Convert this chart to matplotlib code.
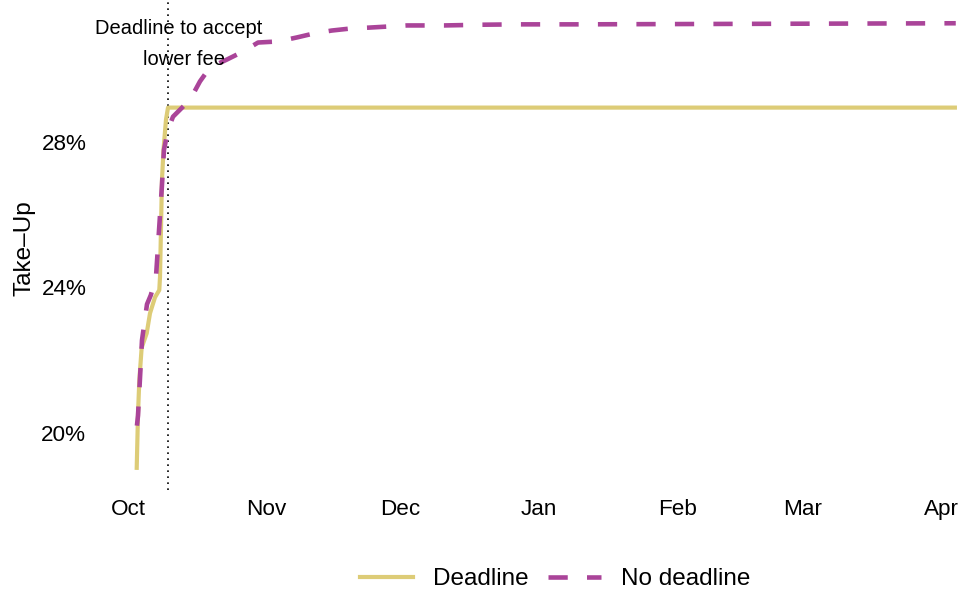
"""
Take-up of the lower fee offer, deadline vs. no-deadline groups.
"""
import pandas as pd
import matplotlib as mpl
import matplotlib.pyplot as plt
import matplotlib.dates as mdates
from matplotlib.lines import Line2D

mpl.rcParams["font.family"] = ["Liberation Sans", "DejaVu Sans"]

START = pd.Timestamp("2018-10-01")
DEADLINE = pd.Timestamp("2018-10-10")

# days after Oct 1 / take-up in percent
deadline_days = [1.95, 2.24, 2.53, 3.06, 3.24, 4.18, 4.92, 6.04, 7.0, 7.16,
                 7.6, 7.94, 8.5, 8.95, 185.0]
deadline_pct = [19.03, 20.52, 21.43, 22.34, 22.40, 22.73, 23.28, 23.72,
                23.92, 24.28, 26.95, 27.78, 28.61, 28.94, 28.94]

nodeadline_days = [2.0, 2.24, 2.68, 3.13, 4.25, 5.1, 6.26, 7.6, 8.05, 8.95,
                   10.07, 13.9, 16.1, 18.3, 22.1, 25.7, 29.1, 33.6, 37.8,
                   41.6, 45.6, 50.1, 53.9, 62.4, 70.7, 79.2, 87.5, 100.2,
                   128.0, 185.2]
nodeadline_pct = [20.19, 20.47, 21.49, 22.54, 23.53, 23.78, 24.28, 26.81,
                  27.78, 28.33, 28.69, 29.16, 29.66, 30.04, 30.26, 30.48,
                  30.73, 30.76, 30.87, 30.98, 31.06, 31.12, 31.14, 31.20,
                  31.20, 31.22, 31.23, 31.23, 31.24, 31.26]

month_ticks = ["2018-10-01", "2018-11-01", "2018-12-01", "2019-01-01",
               "2019-02-01", "2019-03-01", "2019-04-01"]
month_labels = ["Oct", "Nov", "Dec", "Jan", "Feb", "Mar", "Apr"]
y_ticks = [20, 24, 28]

C_DL = "#DDCC77"
C_ND = "#AA4499"


def to_dates(days):
    return START + pd.to_timedelta(days, unit="D")


fig = plt.figure(figsize=(9.64, 5.96), dpi=100)
ax = fig.add_axes([96 / 964, 106 / 596, 862 / 964, 490 / 596])

ax.axvline(DEADLINE, color="black", lw=1.2, ls=(0, (1, 2.6)), zorder=1)
ax.plot(to_dates(deadline_days), deadline_pct, color=C_DL, lw=3.0,
        solid_joinstyle="round", zorder=2)
ax.plot(to_dates(nodeadline_days), nodeadline_pct, color=C_ND, lw=3.3,
        dashes=(4.2, 4.2), dash_capstyle="butt", zorder=3)

# annotation, one text per line (the second line sits a little to the right)
xd = mdates.date2num(DEADLINE)
ax.text(xd + 2.4, 31.12, "Deadline to accept", ha="center", va="center",
        fontsize=14.5)
ax.text(xd + 3.5, 30.26, "lower fee", ha="center", va="center",
        fontsize=14.5)

x0 = mdates.date2num(START)
ax.set_xlim(x0 - 7.16, x0 + 185.7)
ax.set_ylim(18.42, 31.9)

ax.set_xticks(pd.to_datetime(month_ticks))
ax.set_xticklabels(month_labels)
ax.set_yticks(y_ticks)
ax.set_yticklabels([f"{v}%" for v in y_ticks])
ax.tick_params(axis="both", length=0, labelsize=16.2)
ax.tick_params(axis="x", pad=18)
ax.tick_params(axis="y", pad=7)
for lbl in ax.get_xticklabels():
    lbl.set_verticalalignment("baseline")
for s in ax.spines.values():
    s.set_visible(False)

fig.text(24 / 964, 1 - 248.5 / 596, "Take\u2013Up", rotation=90,
         ha="center", va="center", fontsize=17.5)

handles = [Line2D([], [], color=C_DL, lw=3.0),
           Line2D([], [], color=C_ND, lw=3.3, dashes=(4.2, 4.2))]
fig.legend(handles, ["Deadline", "No deadline"], loc="center",
           bbox_to_anchor=(555 / 964, 1 - 579 / 596), ncol=2, frameon=False,
           fontsize=17.5, handlelength=2.2, handletextpad=0.8,
           columnspacing=0.8)

fig.savefig("out.png", dpi=100)
